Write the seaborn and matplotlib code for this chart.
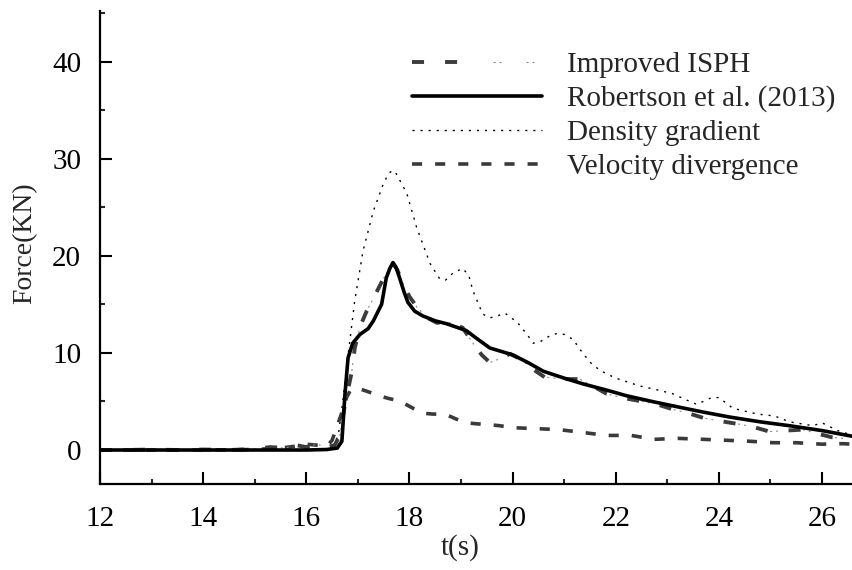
import numpy as np
import pandas as pd
import matplotlib
matplotlib.use("Agg")
import matplotlib.pyplot as plt
import seaborn as sns
from matplotlib.legend_handler import HandlerTuple
from matplotlib.ticker import MultipleLocator

# ---------------- data ----------------
isph_t = [12.0, 12.5, 13.0, 13.5, 14.0, 14.5, 15.0, 15.3, 15.6, 15.8, 16.0, 16.2, 16.4, 16.55,
          16.65, 16.75, 16.82, 16.88, 16.94, 17.05, 17.17, 17.3, 17.49, 17.6, 17.68, 17.76,
          17.87, 18.0, 18.16, 18.35, 18.53, 18.78, 19.03, 19.23, 19.4, 19.56, 19.75, 19.95,
          20.14, 20.4, 20.62, 21.0, 21.3, 21.55, 21.82, 22.1, 22.46, 22.8, 23.1, 23.4, 23.7,
          24.0, 24.35, 24.65, 24.98, 25.3, 25.63, 25.9, 26.2, 26.6]
isph_f = [0, 0, 0.05, 0, 0.05, 0, 0.1, 0.3, 0.2, 0.5, 0.3, 0.6, 0.3, 0.5,
          1.5, 4.7, 6.5, 8.0, 10.5, 12.8, 14.3, 15.6, 17.6, 18.6, 19.2, 18.6,
          17.2, 15.8, 14.6, 13.6, 13.1, 13.1, 12.6, 11.0, 9.8, 9.0, 9.4, 9.9,
          9.4, 8.3, 7.5, 7.3, 7.3, 6.6, 5.8, 5.4, 5.05, 4.7, 4.2, 3.8, 3.3,
          3.0, 2.7, 2.4, 1.9, 2.0, 2.1, 1.7, 1.3, 1.1]

rob_t = [12, 13, 14, 15, 16, 16.4, 16.6, 16.69, 16.75, 16.81, 16.9, 17.04, 17.2, 17.3, 17.46,
         17.55, 17.62, 17.68, 17.74, 17.81, 17.9, 17.97, 18.1, 18.26, 18.5, 18.72, 19.1, 19.3,
         19.56, 19.75, 20.0, 20.3, 20.6, 21.0, 21.37, 21.8, 22.2, 22.7, 23.24, 23.7, 24.2,
         24.8, 25.37, 26.0, 26.6]
rob_f = [0, 0, 0, 0, 0, 0.05, 0.2, 0.9, 5.8, 9.5, 11.0, 11.9, 12.5, 13.3, 15.0,
         17.7, 18.7, 19.3, 18.8, 17.7, 16.2, 15.2, 14.3, 13.8, 13.3, 13.0, 12.3, 11.5,
         10.5, 10.2, 9.8, 9.0, 8.1, 7.4, 6.8, 6.2, 5.6, 5.0, 4.4, 3.9, 3.4,
         2.9, 2.5, 2.0, 1.4]

dens_t = [12, 13, 14, 15, 15.5, 16, 16.3, 16.5, 16.62, 16.72, 16.78, 16.85, 16.94, 17.1, 17.3,
          17.5, 17.6, 17.68, 17.75, 17.95, 18.14, 18.4, 18.59, 18.7, 18.84, 19.03, 19.15,
          19.23, 19.42, 19.56, 19.7, 19.85, 20.1, 20.3, 20.4, 20.55, 20.72, 20.86, 21.0,
          21.17, 21.37, 21.56, 21.8, 22.0, 22.46, 22.8, 23.1, 23.35, 23.57, 23.86, 24.0,
          24.27, 24.5, 24.75, 25.08, 25.37, 25.6, 25.82, 26.0, 26.3, 26.6]
dens_f = [0, 0, 0, 0, 0, 0, 0.05, 0.2, 1.5, 5.5, 8.5, 11.5, 15.4, 20.5, 24.6,
          27.5, 28.5, 28.8, 28.4, 26.4, 22.9, 19.2, 17.6, 17.5, 18.2, 18.7, 18.0,
          16.4, 14.0, 13.6, 13.8, 14.1, 13.1, 11.75, 11.0, 11.2, 11.75, 12.0, 11.9,
          11.4, 9.9, 8.7, 7.9, 7.4, 6.6, 6.2, 5.8, 5.2, 4.7, 5.4, 5.4,
          4.3, 4.0, 3.7, 3.5, 2.9, 2.7, 2.5, 2.8, 2.0, 1.5]

vel_t = [12, 13, 14, 15, 15.5, 15.8, 16.0, 16.2, 16.4, 16.5, 16.6, 16.7, 16.78, 16.85, 16.98,
         17.2, 17.4, 17.6, 17.81, 18.0, 18.24, 18.45, 18.69, 18.9, 19.1, 19.3, 19.56, 19.75,
         20.0, 20.45, 20.9, 21.37, 21.82, 22.3, 22.75, 23.2, 23.7, 24.15, 24.6, 25.05, 25.5,
         26.0, 26.4, 26.6]
vel_f = [0, 0, 0, 0.05, 0.2, 0.4, 0.6, 0.5, 0.4, 1.0, 2.5, 4.0, 5.4, 6.1, 6.4,
         6.0, 5.6, 5.3, 5.05, 4.5, 3.8, 3.7, 3.7, 3.2, 2.8, 2.7, 2.6, 2.5,
         2.3, 2.2, 2.1, 1.8, 1.5, 1.5, 1.1, 1.2, 1.1, 1.0, 0.9, 0.75, 0.75,
         0.6, 0.65, 0.6]

labels = ["Improved ISPH", "Robertson et al. (2013)", "Density gradient", "Velocity divergence"]
x_ticks = [12, 14, 16, 18, 20, 22, 24, 26]
y_ticks = [0, 10, 20, 30, 40]

# ---------------- style ----------------
sns.set_style("ticks")
plt.rcParams["font.family"] = ["Liberation Serif", "DejaVu Serif"]

fig = plt.figure(figsize=(8.53, 5.70), dpi=100)
ax = fig.add_axes([100 / 853, 1 - 484 / 570, 1 - 100 / 853, (484 - 11) / 570])

# Density gradient (dotted)
sns.lineplot(x=dens_t, y=dens_f, ax=ax, color="black", linewidth=1.0,
             linestyle=(0, (1.5, 4.3)), sort=False)
l_dens = ax.lines[-1]

# Velocity divergence (dashed)
sns.lineplot(x=vel_t, y=vel_f, ax=ax, color="#3a3a3a", linewidth=2.6,
             linestyle=(0, (2.8, 3.6)), sort=False)
l_vel = ax.lines[-1]

# Improved ISPH (dash-dot-dot): thick dashes + thin light dots
sns.lineplot(x=isph_t, y=isph_f, ax=ax, color="#3c3c3c", linewidth=2.8,
             linestyle=(0, (3.1, 5.4)), sort=False)
l_isph1 = ax.lines[-1]
sns.lineplot(x=isph_t, y=isph_f, ax=ax, color="#8a8a8a", linewidth=0.8,
             linestyle=(15.3, (1.8, 3.6, 1.8, 22.5)), sort=False)
l_isph2 = ax.lines[-1]

# Robertson et al. (solid)
sns.lineplot(x=rob_t, y=rob_f, ax=ax, color="black", linewidth=2.6, sort=False)
l_rob = ax.lines[-1]

ax.set_xlim(12, 26.6)
ax.set_ylim(-3.5, 45.2)
ax.set_xticks(x_ticks)
ax.set_yticks(y_ticks)
ax.xaxis.set_minor_locator(MultipleLocator(1))
ax.yaxis.set_minor_locator(MultipleLocator(5))

for s in ["top", "right"]:
    ax.spines[s].set_visible(False)
for s in ["left", "bottom"]:
    ax.spines[s].set_linewidth(1.6)
    ax.spines[s].set_color("black")

ax.tick_params(which="major", direction="in", length=8.6, width=1.5, labelsize=21,
               colors="black")
ax.tick_params(which="minor", direction="in", length=3.8, width=1.5)
ax.tick_params(axis="x", which="major", pad=16)
ax.tick_params(axis="y", which="major", pad=13.5)

ax.set_xlabel("t(s)", fontsize=21)
ax.set_ylabel("Force(KN)", fontsize=20)
ax.xaxis.set_label_coords((460 - 100) / 753, -(548 - 484) / 473)
ax.xaxis.label.set_verticalalignment("center")
ax.yaxis.set_label_coords(-(100 - 25) / 753, (484 - 243) / 473)
ax.yaxis.label.set_verticalalignment("center")

leg = ax.legend([(l_isph1, l_isph2), l_rob, l_dens, l_vel], labels,
                handler_map={tuple: HandlerTuple(ndivide=None, pad=0)},
                loc="upper left", bbox_to_anchor=(0.414, 0.914), frameon=False,
                fontsize=21, handlelength=4.45, handletextpad=0.86,
                labelspacing=0.25, borderpad=0, borderaxespad=0)

fig.savefig("out.png", dpi=100)
